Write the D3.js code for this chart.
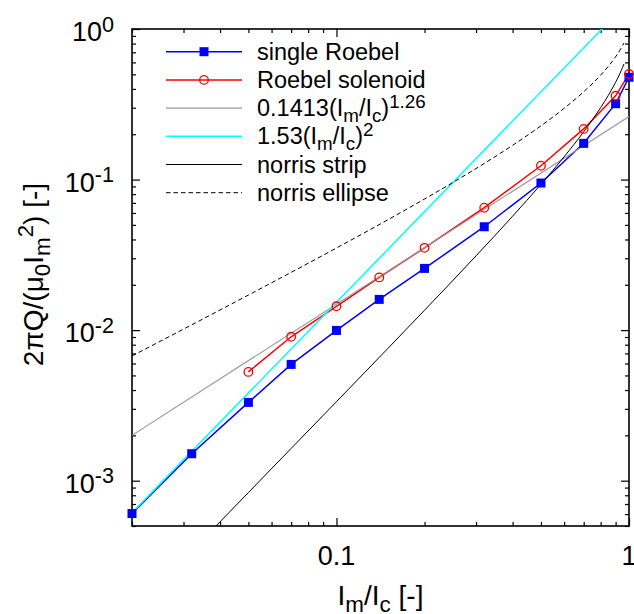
<!DOCTYPE html>
<html><head><meta charset="utf-8">
<script src="https://cdn.jsdelivr.net/npm/d3@7/dist/d3.min.js"></script>
<style>
body{margin:0;background:#fff}
svg{display:block;background:#fff}
text{font-family:"Liberation Sans",Arial,Helvetica,sans-serif;fill:#000}
</style>
</head><body>
<svg id="chart" width="634" height="614"></svg>
<script>
// ---- data ----
const singleX = [0.02, 0.032, 0.05, 0.07, 0.1, 0.14, 0.2, 0.32, 0.5, 0.7, 0.9, 1.0];
const singleY = [6.05e-4, 1.51e-3, 3.31e-3, 5.92e-3, 9.95e-3, 0.0160, 0.0257, 0.0486, 0.0948, 0.174, 0.319, 0.478];
const solenoidX = [0.05, 0.07, 0.1, 0.14, 0.2, 0.32, 0.5, 0.7, 0.9, 1.0];
const solenoidY = [5.28e-3, 9.03e-3, 0.0144, 0.0224, 0.0352, 0.065, 0.1235, 0.217, 0.360, 0.502];
const fit126X = [0.02, 1.0];
const fit126Y = [0.00200, 0.262];
const fit2X = [0.02, 1.0];
const fit2Y = [6.12e-4, 1.53];
const stripX = [0.035, 0.05, 0.07, 0.1, 0.15, 0.2, 0.3, 0.4, 0.5, 0.6, 0.7, 0.8, 0.85, 0.9, 0.93, 0.95, 0.961];
const stripY = [4.08e-4, 8.34e-4, 1.637e-3, 3.347e-3, 7.568e-3, 0.013551, 0.031135, 0.05707, 0.0930, 0.14159, 0.20766, 0.3004, 0.3627, 0.44262, 0.50403, 0.55397, 0.58602];
const ellipseX = [0.02, 0.03, 0.05, 0.07, 0.1, 0.15, 0.2, 0.3, 0.4, 0.5, 0.6, 0.7, 0.8, 0.85, 0.9, 0.93, 0.95, 0.961];
const ellipseY = [0.006734, 0.010153, 0.017096, 0.024186, 0.035107, 0.054125, 0.074258, 0.11839, 0.16881, 0.22741, 0.29713, 0.38289, 0.4941, 0.56521, 0.65368, 0.72009, 0.77332, 0.80716];

const xMajorTicks = [0.1, 1];
const xMajorLabels = ["0.1", "1"];
const xMinorTicks = [0.02, 0.03, 0.04, 0.05, 0.06, 0.07, 0.08, 0.09, 0.2, 0.3, 0.4, 0.5, 0.6, 0.7, 0.8, 0.9];
const yMajorTicks = [1e-3, 1e-2, 1e-1, 1];
const yMajorExp = ["-3", "-2", "-1", "0"];

const legendLabels = [
  [["single Roebel", ""]],
  [["Roebel solenoid", ""]],
  [["0.1413(I", ""], ["m", "sub"], ["/I", ""], ["c", "sub"], [")", ""], ["1.26", "sup"]],
  [["1.53(I", ""], ["m", "sub"], ["/I", ""], ["c", "sub"], [")", ""], ["2", "sup"]],
  [["norris strip", ""]],
  [["norris ellipse", ""]]
];
const xTitle = [["I", ""], ["m", "sub"], ["/I", ""], ["c", "sub"], [" [-]", ""]];
const yTitle = [["2\u03c0Q/(\u03bc", ""], ["0", "sub"], ["I", ""], ["m", "sub"], ["2", "sup"], [") [-]", ""]];

// ---- layout ----
const L = 132, R = 629, T = 29, B = 526;
const svg = d3.select("#chart");
const x = d3.scaleLog().domain([0.02, 1]).range([L, R]);
const y = d3.scaleLog().domain([5e-4, 1]).range([B, T]);

svg.append("defs").append("clipPath").attr("id", "clip")
  .append("rect").attr("x", L).attr("y", T).attr("width", R - L).attr("height", B - T);

function rich(sel, parts, fs) {
  let shift = 0;
  parts.forEach(([t, k]) => {
    const target = k === "sub" ? fs * 0.25 : (k === "sup" ? -fs * 0.34 : 0);
    sel.append("tspan").attr("dy", target - shift).attr("font-size", k ? fs * 0.8 : fs).text(t);
    shift = target;
  });
}

// ticks
function ticks(axisFn, scale, vals, size, tr) {
  svg.append("g").attr("transform", tr)
    .call(axisFn(scale).tickValues(vals).tickSize(size).tickFormat(""))
    .call(g => g.select(".domain").remove())
    .call(g => g.selectAll("line").attr("stroke", "#000").attr("stroke-width", 1.2));
}
const yAll = y.ticks().filter(v => !yMajorTicks.some(m => Math.abs(m - v) / m < 1e-6));
ticks(d3.axisBottom, x, xMajorTicks, -8, `translate(0,${B})`);
ticks(d3.axisBottom, x, xMinorTicks, -4, `translate(0,${B})`);
ticks(d3.axisTop, x, xMajorTicks, -8, `translate(0,${T})`);
ticks(d3.axisTop, x, xMinorTicks, -4, `translate(0,${T})`);
ticks(d3.axisLeft, y, yMajorTicks, -8, `translate(${L},0)`);
ticks(d3.axisLeft, y, yAll, -4, `translate(${L},0)`);
ticks(d3.axisRight, y, yMajorTicks, -8, `translate(${R},0)`);
ticks(d3.axisRight, y, yAll, -4, `translate(${R},0)`);

// frame
svg.append("rect").attr("x", L).attr("y", T).attr("width", R - L).attr("height", B - T)
  .attr("fill", "none").attr("stroke", "#000").attr("stroke-width", 1.6);

// tick labels
xMajorTicks.forEach((v, i) => {
  svg.append("text").attr("x", x(v)).attr("y", 565).attr("text-anchor", "middle")
    .attr("font-size", 27).text(xMajorLabels[i]);
});
yMajorTicks.forEach((v, i) => {
  const t = svg.append("text").attr("x", 114).attr("y", y(v) + 12).attr("text-anchor", "end").attr("font-size", 27);
  rich(t, [["10", ""], [yMajorExp[i], "sup"]], 27);
});

// axis titles
const xt = svg.append("text").attr("x", (L + R) / 2).attr("y", 605).attr("text-anchor", "middle").attr("font-size", 28);
rich(xt, xTitle, 28);
const yt = svg.append("text").attr("transform", `translate(43,${(T + B) / 2 - 3}) rotate(-90)`)
  .attr("text-anchor", "middle").attr("font-size", 28);
rich(yt, yTitle, 28);

// series
const plot = svg.append("g").attr("clip-path", "url(#clip)");
const lin = d3.line().x(d => x(d[0])).y(d => y(d[1]));
const smooth = d3.line().x(d => x(d[0])).y(d => y(d[1])).curve(d3.curveMonotoneX);
const zip = (a, b) => a.map((v, i) => [v, b[i]]);

const singleD = zip(singleX, singleY);
const solD = zip(solenoidX, solenoidY);

plot.append("path").attr("d", lin(singleD)).attr("fill", "none").attr("stroke", "#0000ff").attr("stroke-width", 1.5);
svg.append("g").selectAll("rect").data(singleD).join("rect")
  .attr("x", d => x(d[0]) - 4.5).attr("y", d => y(d[1]) - 4.5).attr("width", 9).attr("height", 9).attr("fill", "#0000ff");

plot.append("path").attr("d", lin(solD)).attr("fill", "none").attr("stroke", "#ff0000").attr("stroke-width", 1.5);
svg.append("g").selectAll("circle").data(solD).join("circle")
  .attr("cx", d => x(d[0])).attr("cy", d => y(d[1])).attr("r", 4.3)
  .attr("fill", "none").attr("stroke", "#ff0000").attr("stroke-width", 1.3);

plot.append("path").attr("d", lin(zip(fit126X, fit126Y))).attr("fill", "none").attr("stroke", "#999999").attr("stroke-width", 1.2);
plot.append("path").attr("d", lin(zip(fit2X, fit2Y))).attr("fill", "none").attr("stroke", "#00ffff").attr("stroke-width", 1.5);
plot.append("path").attr("d", smooth(zip(stripX, stripY))).attr("fill", "none").attr("stroke", "#000").attr("stroke-width", 1);
plot.append("path").attr("d", smooth(zip(ellipseX, ellipseY))).attr("fill", "none").attr("stroke", "#000").attr("stroke-width", 1).attr("stroke-dasharray", "4.5,3");

// legend
const legStyles = [
  {c: "#0000ff", w: 1.5, m: "sq"},
  {c: "#ff0000", w: 1.5, m: "ci"},
  {c: "#999999", w: 1.2},
  {c: "#00ffff", w: 1.5},
  {c: "#000000", w: 1},
  {c: "#000000", w: 1, dash: "4.5,3"}
];
legendLabels.forEach((lab, i) => {
  const cy = 51.7 + i * 28.2;
  const s = legStyles[i];
  const ln = svg.append("line").attr("x1", 166).attr("x2", 242).attr("y1", cy).attr("y2", cy)
    .attr("stroke", s.c).attr("stroke-width", s.w);
  if (s.dash) ln.attr("stroke-dasharray", s.dash);
  if (s.m === "sq") svg.append("rect").attr("x", 204 - 4.5).attr("y", cy - 4.5).attr("width", 9).attr("height", 9).attr("fill", s.c);
  if (s.m === "ci") svg.append("circle").attr("cx", 204).attr("cy", cy).attr("r", 4.3).attr("fill", "none").attr("stroke", s.c).attr("stroke-width", 1.3);
  const t = svg.append("text").attr("x", 257).attr("y", cy + 8).attr("font-size", 23.5);
  rich(t, lab, 23.5);
});
</script>
</body></html>
